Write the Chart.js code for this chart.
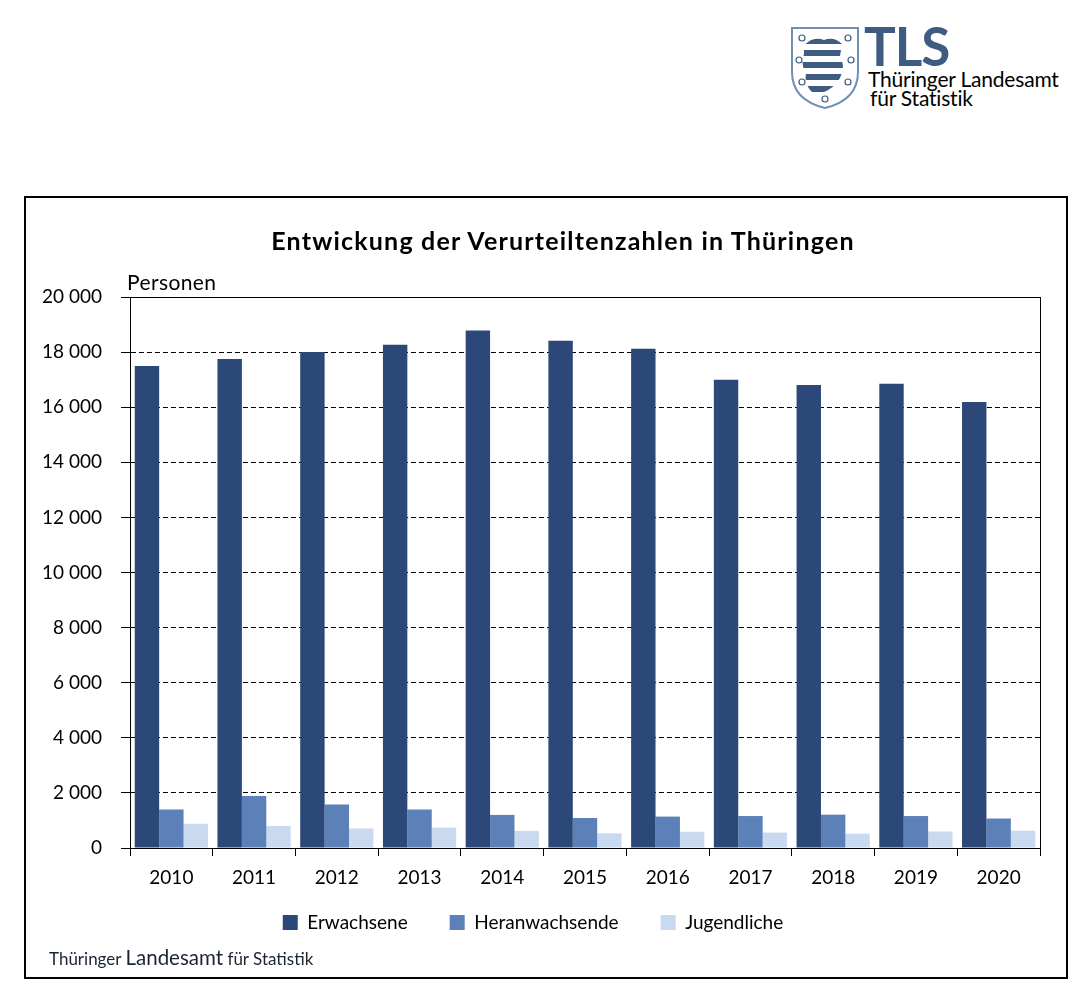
<!DOCTYPE html>
<html lang="de">
<head>
<meta charset="utf-8">
<title>Entwickung der Verurteiltenzahlen in Thüringen</title>
<script src="https://cdn.jsdelivr.net/npm/chart.js@4/dist/chart.umd.min.js"></script>
<style>
  body { margin: 0; background: #fff; font-family: Lato, sans-serif; }
  #page { position: relative; width: 1087px; height: 1003px; overflow: hidden; }
  #frame { position: absolute; left: 24px; top: 196px; width: 1040px; height: 779px; border: 2px solid #000; }
  #chart { position: absolute; left: 26px; top: 198px; }
  .txt { position: absolute; white-space: nowrap; color: #000; }
  #title { left: 213px; top: 225px; width: 700px; text-align: center; font-weight: bold; font-size: 25px; line-height: 30px; letter-spacing: 1.2px; }
  #unit { left: 127px; top: 270px; font-size: 21px; line-height: 24px; letter-spacing: 0.4px; }
  #source { left: 49px; top: 945px; font-size: 17px; line-height: 24px; color: #1b2433; }
  #source .big { font-size: 20.5px; }
  #tls { left: 864px; top: 19px; font-size: 53px; line-height: 53px; font-weight: bold; color: #3e5c80; letter-spacing: -1px; }
  #lt1 { left: 868px; top: 67px; font-size: 21px; line-height: 24px; letter-spacing: -0.2px; }
  #lt2 { left: 870px; top: 86px; font-size: 21px; line-height: 24px; letter-spacing: -0.2px; }
  #shield { position: absolute; left: 790px; top: 26px; }
</style>
</head>
<body>
<div id="page">
  <svg id="shield" width="70" height="84" viewBox="0 0 70 84">
    <defs>
      <clipPath id="lion">
        <path d="M14 20 Q22 10 34 14 Q44 10 52 18 L50 30 Q56 40 50 52 Q44 62 34 66 L22 66 Q14 58 16 48 Q10 38 14 28 Z"/>
      </clipPath>
    </defs>
    <path d="M2 2 H68 V46 Q68 74 35 82 Q2 74 2 46 Z" fill="#fff" stroke="#6f8fb5" stroke-width="2"/>
    <g clip-path="url(#lion)" fill="#3e5c80">
      <rect x="0" y="12" width="70" height="6"/>
      <rect x="0" y="24" width="70" height="6"/>
      <rect x="0" y="36" width="70" height="6"/>
      <rect x="0" y="48" width="70" height="6"/>
      <rect x="0" y="60" width="70" height="6"/>
    </g>
    <g fill="none" stroke="#3e5c80" stroke-width="1.2">
      <circle cx="12" cy="12" r="3"/><circle cx="58" cy="12" r="3"/>
      <circle cx="9" cy="34" r="3"/><circle cx="61" cy="34" r="3"/>
      <circle cx="12" cy="56" r="3"/><circle cx="58" cy="56" r="3"/>
      <circle cx="35" cy="73" r="3"/>
    </g>
  </svg>
  <div class="txt" id="tls">TLS</div>
  <div class="txt" id="lt1">Thüringer Landesamt</div>
  <div class="txt" id="lt2">für Statistik</div>

  <div id="frame"></div>
  <canvas id="chart" width="1040" height="800"></canvas>
  <div class="txt" id="title">Entwickung der Verurteiltenzahlen in Thüringen</div>
  <div class="txt" id="unit">Personen</div>
  <div class="txt" id="source">Thüringer <span class="big">Landesamt</span> für Statistik</div>
</div>
<script>
const years = ['2010', '2011', '2012', '2013', '2014', '2015', '2016', '2017', '2018', '2019', '2020']
const erwachsene = [17500, 17750, 18000, 18270, 18780, 18410, 18120, 17000, 16810, 16850, 16190]
const heranwachsende = [1400, 1890, 1575, 1400, 1200, 1090, 1140, 1160, 1210, 1160, 1070]
const jugendliche = [880, 800, 710, 740, 620, 530, 590, 560, 520, 600, 630]
const seriesNames = ['Erwachsene', 'Heranwachsende', 'Jugendliche']
const seriesColors = ['#2b4878', '#5b81b8', '#c9d9ef']

// thin black frame round the plot area
const plotBorder = {
  id: 'plotBorder',
  afterDatasetsDraw(chart) {
    const { ctx, chartArea: a } = chart
    ctx.save()
    ctx.strokeStyle = '#000'
    ctx.lineWidth = 1
    ctx.strokeRect(Math.round(a.left) + 0.5, Math.round(a.top) + 0.5, Math.round(a.width), Math.round(a.height))
    ctx.restore()
  },
}

// the wide label padding also pads the legend vertically, so pull it up a bit
const legendLift = {
  id: 'legendLift',
  afterLayout(chart) {
    chart.legend.top -= 22
    chart.legend.bottom -= 22
  },
}

const fmt = (v) => String(v).replace(/\B(?=(\d{3})+(?!\d))/g, ' ')

const data = {
  labels: years,
  datasets: [erwachsene, heranwachsende, jugendliche].map((values, i) => ({
    label: seriesNames[i],
    data: values,
    backgroundColor: seriesColors[i],
    borderWidth: 0,
    categoryPercentage: 0.885,
    barPercentage: 1,
  })),
}

new Chart(document.getElementById('chart'), {
  type: 'bar',
  data,
  plugins: [plotBorder, legendLift],
  options: {
    responsive: false,
    animation: false,
    layout: { padding: { left: 0, right: 26, top: 99, bottom: 34 } },
    plugins: {
      title: { display: false },
      tooltip: { enabled: false },
      legend: {
        position: 'bottom',
        labels: {
          boxWidth: 15,
          boxHeight: 15,
          padding: 42,
          color: '#000',
          font: { family: 'Lato', size: 19 },
        },
      },
    },
    scales: {
      x: {
        afterFit: (scale) => { scale.height = 45 },
        grid: { drawOnChartArea: false, tickLength: 8, tickColor: '#000', offset: true },
        border: { color: '#000', width: 1 },
        ticks: { color: '#000', padding: 10, font: { family: 'Lato', size: 19 } },
      },
      y: {
        min: 0,
        max: 20000,
        afterFit: (scale) => { scale.width = 104 },
        grid: { color: '#000', lineWidth: 1, tickLength: 9, tickColor: '#000' },
        border: { color: '#000', width: 1, dash: [5, 3] },
        ticks: {
          stepSize: 2000,
          color: '#000',
          padding: 19,
          font: { family: 'Lato', size: 19 },
          callback: (v) => fmt(v),
        },
      },
    },
  },
})
</script>
</body>
</html>
